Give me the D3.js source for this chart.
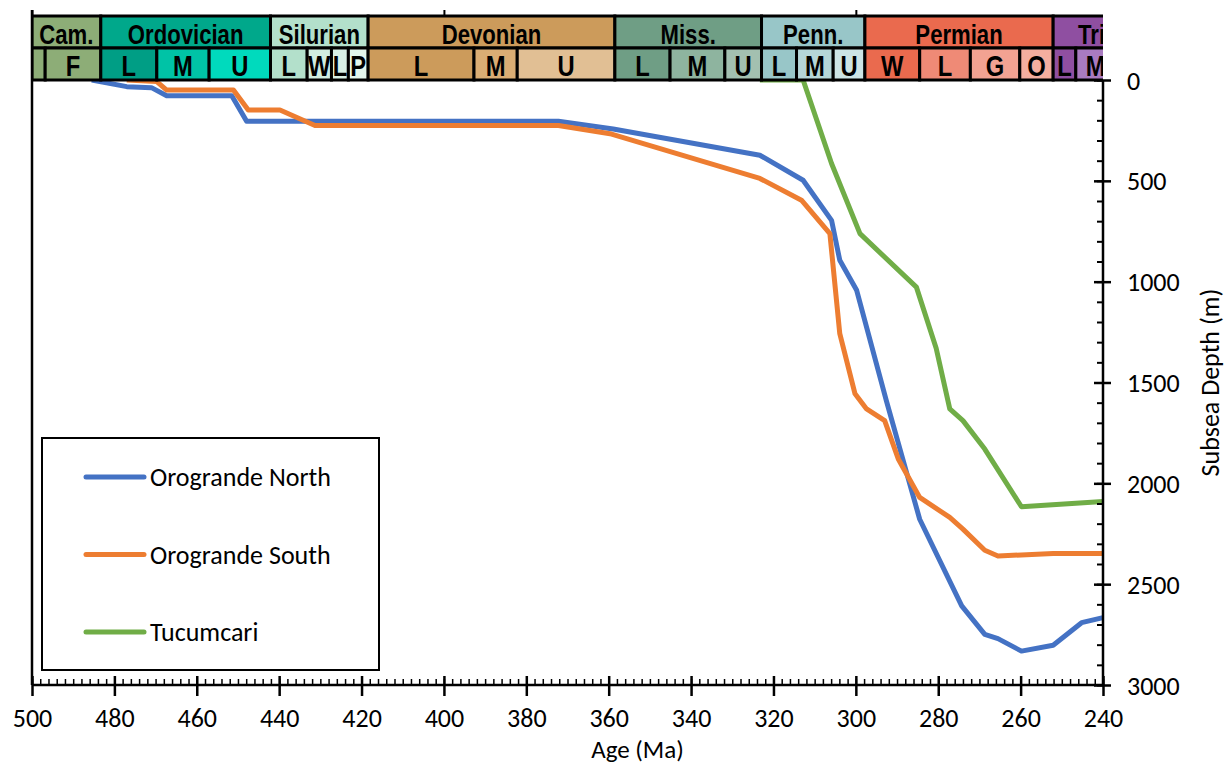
<!DOCTYPE html>
<html lang="en">
<head>
    <meta charset="UTF-8">
    <title>Subsidence curves</title>
    <script type="text/javascript" src="https://cdn.jsdelivr.net/npm/d3@7"></script>
    <style>
        body { margin: 0; background: #fff; }
        .lbl { font-family: Carlito, Lato, sans-serif; font-size: 26px; fill: #000; }
        .geo { font-family: "Liberation Sans", Arial, sans-serif; font-weight: bold; fill: #000; }
    </style>
</head>
<body>
<script type="text/javascript">
    const width = 1230, height = 765;

    // subsidence curves (age in Ma, depth in m)
    const northAge = [485.5, 477, 471, 467.3, 451.5, 447.9, 438.2, 372.2, 358.9, 323.3, 312.8, 305.9, 303.9, 299.8, 292.6, 284.5, 274.3, 268.7, 265.5, 259.8, 252.1, 245.2, 240];
    const northDepth = [0, 33, 38, 78, 78, 205, 205, 205, 243, 373, 497, 696, 894, 1043, 1590, 2178, 2608, 2749, 2770, 2832, 2803, 2691, 2666];

    const southAge = [477, 469.7, 467.3, 451.1, 447.5, 439.8, 431.3, 372.2, 359.3, 323.3, 313.2, 306.3, 303.9, 300.2, 297.4, 293, 289.7, 284.5, 277.2, 274, 268.7, 265.5, 252.1, 240];
    const southDepth = [0, 8, 50, 50, 149, 149, 226, 226, 268, 488, 596, 762, 1258, 1556, 1631, 1689, 1879, 2070, 2169, 2227, 2332, 2360, 2348, 2348];

    const tucAge = [323.3, 312.8, 305.9, 299, 285.3, 280.5, 277.2, 274, 268.7, 259.8, 240];
    const tucDepth = [0, 0, 414, 762, 1027, 1330, 1631, 1689, 1830, 2116, 2090];

    const seriesNames = ['Orogrande North', 'Orogrande South', 'Tucumcari'];
    const seriesColors = ['#4472C4', '#ED7D31', '#70AD47'];

    // geologic time scale (boundaries as placed on the chart)
    const periodNames = ['Cam.', 'Ordovician', 'Silurian', 'Devonian', 'Miss.', 'Penn.', 'Permian', 'Triassic'];
    const periodStart = [500, 483.3, 442.1, 418.4, 358.5, 322.9, 297.8, 252.1];
    const periodEnd = [483.3, 442.1, 418.4, 358.5, 322.9, 297.8, 252.1, 220];
    const periodColors = ['#8DAD77', '#00A88B', '#B3E0CB', '#CC9B5B', '#6F9E85', '#98C6C8', '#EA6A4E', '#8F4FA1'];

    const epochNames = ['', 'F', 'L', 'M', 'U', 'L', 'W', 'L', 'P', 'L', 'M', 'U', 'L', 'M', 'U', 'L', 'M', 'U', 'W', 'L', 'G', 'O', 'L', 'M'];
    const epochStart = [500, 496.8, 483.3, 469.7, 457, 442.1, 433.2, 427.3, 423.2, 418.4, 392.7, 382.2, 358.5, 345.1, 331.8, 322.9, 314.4, 305.5, 297.8, 284.5, 272.2, 260.2, 252.1, 246.6];
    const epochEnd = [496.8, 483.3, 469.7, 457, 442.1, 433.2, 427.3, 423.2, 418.4, 392.7, 382.2, 358.5, 345.1, 331.8, 322.9, 314.4, 305.5, 297.8, 284.5, 272.2, 260.2, 252.1, 246.6, 237];
    const epochColors = ['#8DAD77', '#8DAD77',
        '#009E85', '#00C3A6', '#00DABD',
        '#B3E0CB', '#D1EDE0', '#D9F1E6', '#E3F5EC',
        '#CC9B5B', '#DAAD74', '#E1BF94',
        '#6F9E85', '#8EB49F', '#A3C0B0',
        '#98C6C8', '#B5D6D8', '#CCE4E5',
        '#EA6A4E', '#EF8A76', '#F2A292', '#F4AE9F',
        '#8F4FA1', '#A97BC0'];

    const xTicks = d3.range(500, 239, -20);
    const xMinor = d3.range(500, 239, -2);
    const yTicks = d3.range(0, 3001, 500);
    const yMinor = d3.range(0, 3001, 100);

    const x = d3.scaleLinear().domain([500, 240]).range([32, 1103]);
    const y = d3.scaleLinear().domain([0, 3000]).range([80, 685]);

    const svg = d3.select('body').append('svg')
        .attr('width', width)
        .attr('height', height);

    svg.append('defs').append('clipPath').attr('id', 'plotclip')
        .append('rect')
        .attr('x', x(500)).attr('y', 0)
        .attr('width', x(240) - x(500)).attr('height', height);

    // curves
    const line = d3.line().x(d => x(d[0])).y(d => y(d[1]));
    const series = [
        d3.zip(northAge, northDepth),
        d3.zip(southAge, southDepth),
        d3.zip(tucAge, tucDepth)
    ];
    svg.append('g').selectAll('path')
        .data(series)
        .enter()
        .append('path')
        .attr('d', line)
        .attr('fill', 'none')
        .attr('stroke', (d, i) => seriesColors[i])
        .attr('stroke-width', 5)
        .attr('stroke-linejoin', 'round');

    // time scale band
    const band = svg.append('g').attr('clip-path', 'url(#plotclip)');
    const rowTop = 16, rowMid = 48, rowBot = 80;

    const periods = periodNames.map((n, i) => ({name: n, s: periodStart[i], e: periodEnd[i], c: periodColors[i]}));
    const epochs = epochNames.map((n, i) => ({name: n, s: epochStart[i], e: epochEnd[i], c: epochColors[i]}));

    band.selectAll('rect.period')
        .data(periods)
        .enter()
        .append('rect')
        .attr('class', 'period')
        .attr('x', d => x(d.s)).attr('y', rowTop)
        .attr('width', d => x(d.e) - x(d.s)).attr('height', rowMid - rowTop)
        .attr('fill', d => d.c)
        .attr('stroke', '#000').attr('stroke-width', 3);

    band.selectAll('rect.epoch')
        .data(epochs)
        .enter()
        .append('rect')
        .attr('class', 'epoch')
        .attr('x', d => x(d.s)).attr('y', rowMid)
        .attr('width', d => x(d.e) - x(d.s)).attr('height', rowBot - rowMid)
        .attr('fill', d => d.c)
        .attr('stroke', '#000').attr('stroke-width', 3);

    // narrow bold labels
    band.selectAll('text.period')
        .data(periods)
        .enter()
        .append('text')
        .attr('class', 'geo')
        .attr('transform', d => 'translate(' + (x(d.s) + x(d.e)) / 2 + ',44) scale(0.82,1)')
        .attr('text-anchor', 'middle')
        .style('font-size', '27px')
        .text(d => d.name);

    band.selectAll('text.epoch')
        .data(epochs)
        .enter()
        .append('text')
        .attr('class', 'geo')
        .attr('transform', d => 'translate(' + (x(d.s) + x(d.e)) / 2 + ',75.5) scale(0.82,1)')
        .attr('text-anchor', 'middle')
        .style('font-size', '29px')
        .text(d => d.name);

    // top marks
    svg.append('g')
        .attr('transform', 'translate(0,' + rowTop + ')')
        .call(d3.axisTop(x).tickValues([500, 400, 300]).tickSize(6).tickFormat(''))
        .call(g => g.select('.domain').remove())
        .call(g => g.selectAll('line').attr('stroke-width', 2));

    // left frame line
    svg.append('line')
        .attr('x1', x(500)).attr('x2', x(500))
        .attr('y1', 10).attr('y2', y(3000))
        .attr('stroke', '#000').attr('stroke-width', 2.5);

    // bottom axis
    svg.append('g')
        .attr('transform', 'translate(0,' + y(3000) + ')')
        .call(d3.axisBottom(x).tickValues(xMinor).tickSize(-6).tickFormat(''))
        .call(g => g.select('.domain').remove())
        .call(g => g.selectAll('line').attr('stroke-width', 1.5));

    const xAxis = svg.append('g')
        .attr('transform', 'translate(0,' + y(3000) + ')')
        .call(d3.axisBottom(x).tickValues(xTicks).tickFormat(d3.format('d')));
    xAxis.select('.domain').attr('stroke-width', 2.5).attr('d', 'M' + x(500) + ',0H' + x(240));
    xAxis.selectAll('.tick line').attr('y1', -9).attr('y2', 11).attr('stroke-width', 2.5);
    xAxis.selectAll('.tick text').attr('class', 'lbl').attr('y', 24);
    xAxis.attr('font-size', null).attr('font-family', null);

    // right axis
    svg.append('g')
        .attr('transform', 'translate(' + x(240) + ',0)')
        .call(d3.axisLeft(y).tickValues(yMinor).tickSize(6).tickFormat(''))
        .call(g => g.select('.domain').remove())
        .call(g => g.selectAll('line').attr('stroke-width', 2));

    const yAxis = svg.append('g')
        .attr('transform', 'translate(' + x(240) + ',0)')
        .call(d3.axisRight(y).tickValues(yTicks).tickFormat(d3.format('d')));
    yAxis.select('.domain').attr('stroke-width', 2.5).attr('d', 'M0,' + y(0) + 'V' + y(3000));
    yAxis.selectAll('.tick line').attr('x1', -9).attr('x2', 8).attr('stroke-width', 2.5);
    yAxis.selectAll('.tick text').attr('class', 'lbl').attr('x', 24).attr('dy', '0.35em');
    yAxis.attr('font-size', null).attr('font-family', null);

    // titles
    svg.append('text')
        .attr('class', 'lbl')
        .attr('x', (x(500) + x(240)) / 2 + 70)
        .attr('y', 758)
        .attr('text-anchor', 'middle')
        .style('font-size', '25px')
        .text('Age (Ma)');

    svg.append('text')
        .attr('class', 'lbl')
        .attr('transform', 'translate(1219,' + y(1500) + ') rotate(-90)')
        .attr('text-anchor', 'middle')
        .text('Subsea Depth (m)');

    // legend
    const legend = svg.append('g');
    legend.append('rect')
        .attr('x', 42).attr('y', 438)
        .attr('width', 337).attr('height', 232)
        .attr('fill', '#fff').attr('stroke', '#000').attr('stroke-width', 2);
    const items = legend.selectAll('g.item')
        .data(seriesNames)
        .enter()
        .append('g')
        .attr('transform', (d, i) => 'translate(0,' + (477 + i * 77.5) + ')');
    items.append('line')
        .attr('x1', 86).attr('x2', 144)
        .attr('stroke', (d, i) => seriesColors[i])
        .attr('stroke-width', 5)
        .attr('stroke-linecap', 'round');
    items.append('text')
        .attr('class', 'lbl')
        .attr('x', 150)
        .attr('dy', '0.35em')
        .text(d => d);
</script>
</body>
</html>
